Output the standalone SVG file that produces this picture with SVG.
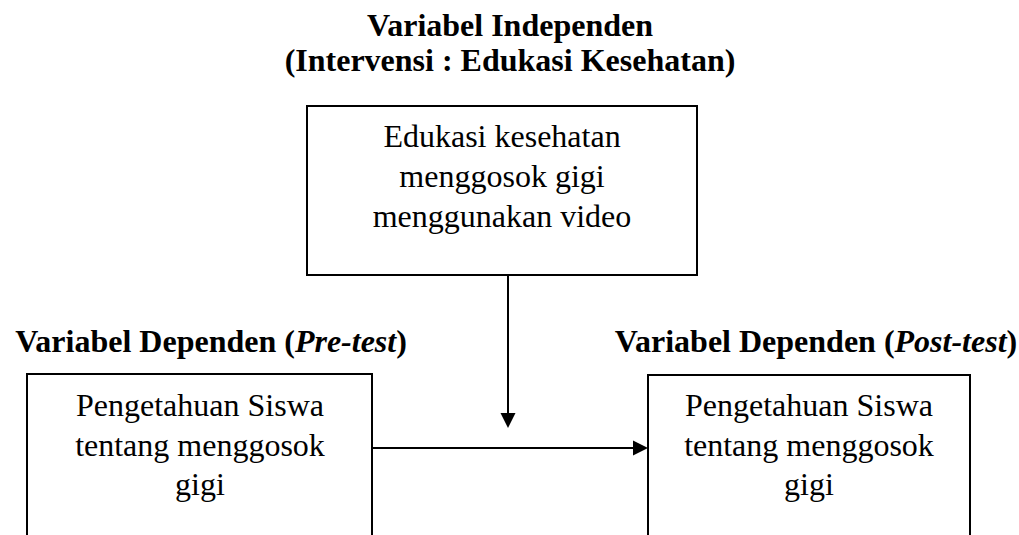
<svg xmlns="http://www.w3.org/2000/svg" width="1019" height="535" viewBox="0 0 1019 535">
<style>
text{font-family:"Liberation Serif","Times New Roman",serif;fill:#000;font-size:32px;text-anchor:middle}
.t{font-weight:bold}
.box{fill:#fff;stroke:#000;stroke-width:2}
.ln{stroke:#000;stroke-width:2;fill:none}
</style>
<rect width="1019" height="535" fill="#fff"/>
<g id="title-independen">
<text class="t" x="510" y="36">Variabel Independen</text>
<text class="t" x="510" y="71">(Intervensi : Edukasi Kesehatan)</text>
</g>
<g id="node-intervensi">
<rect class="box" x="307" y="106" width="390" height="169"/>
<text x="502" y="147">Edukasi kesehatan</text>
<text x="502" y="187">menggosok gigi</text>
<text x="502" y="227">menggunakan video</text>
</g>
<g id="title-pretest">
<text class="t" x="211" y="352">Variabel Dependen (<tspan font-style="italic">Pre-test</tspan>)</text>
</g>
<g id="node-pretest">
<rect class="box" x="27" y="374" width="345" height="200"/>
<text x="200" y="416">Pengetahuan Siswa</text>
<text x="200" y="456">tentang menggosok</text>
<text x="200" y="495">gigi</text>
</g>
<g id="title-posttest">
<text class="t" x="816" y="352">Variabel Dependen (<tspan font-style="italic">Post-test</tspan>)</text>
</g>
<g id="node-posttest">
<rect class="box" x="648" y="375" width="322" height="200"/>
<text x="809" y="416">Pengetahuan Siswa</text>
<text x="809" y="456">tentang menggosok</text>
<text x="809" y="495">gigi</text>
</g>
<g id="connectors">
<line class="ln" x1="508" y1="275" x2="508" y2="414"/>
<path d="M500.5,413 L515.5,413 L508,428 Z" fill="#000"/>
<line class="ln" x1="372" y1="448" x2="634" y2="448"/>
<path d="M633,440.5 L648,448 L633,455.5 Z" fill="#000"/>
</g>
</svg>
